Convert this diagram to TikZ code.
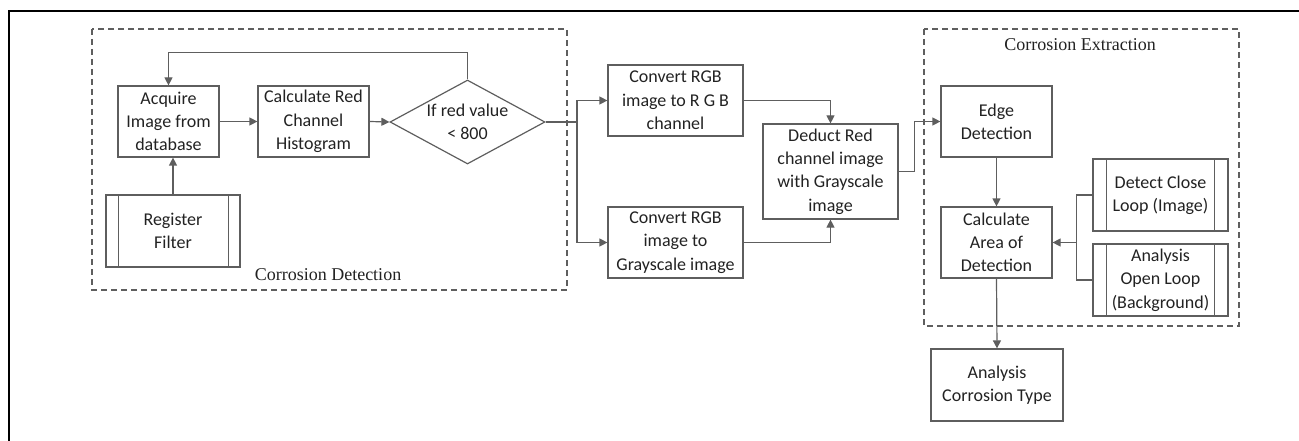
\documentclass[tikz,border=0pt]{standalone}
\usepackage{fontspec}
\setmainfont{Carlito}
\newfontfamily\labelfont{Liberation Serif}
\usetikzlibrary{shapes.geometric,arrows.meta}
\definecolor{linegray}{HTML}{5E5E5E}
\definecolor{txtgray}{HTML}{222222}
\tikzset{
  box/.style={draw=linegray, line width=1.2pt, rectangle, inner sep=0pt, align=center,
    text=txtgray, font=\fontsize{18}{23.3}\selectfont},
  decision/.style={draw=linegray, line width=1.2pt, diamond, inner sep=0pt,
    minimum width=155pt, minimum height=84pt},
  txt/.style={align=center, text=txtgray, font=\fontsize{18}{23.3}\selectfont, inner sep=0pt},
  grouplabel/.style={text=txtgray, font=\labelfont\fontsize{18}{22}\selectfont, inner sep=0pt},
  group/.style={draw=linegray, line width=1.3pt, dash pattern=on 6pt off 4pt},
  conn/.style={draw=linegray, line width=1.2pt},
  arr/.style={conn, -{Triangle[length=8pt,width=8pt]}},
}
\begin{document}
\begin{tikzpicture}[x=1pt,y=-1pt]
\useasboundingbox (0,0) rectangle (1299,441);
% frame corner
\draw[line width=2pt, black] (9,441) -- (9,11) -- (1299,11);
% groups
\draw[group] (92,29) rectangle (567,290);
\draw[group] (924,29) rectangle (1239,326);
\node[grouplabel] (cdlabel) at (328,275) {Corrosion Detection};
\node[grouplabel] (celabel) at (1080,45) {Corrosion Extraction};
% nodes
\node[box, minimum width=101pt, minimum height=71pt] (acq) at (168.5,121.5) {Acquire\\Image from\\database};
\node[box, minimum width=111pt, minimum height=71pt] (calc) at (313.5,121.5) {Calculate Red\\Channel\\Histogram};
\node[decision] (dia) at (467.5,122) {};
\node[txt] (diatext) at (467.5,122) {If red value\\< 800};
\node[box, minimum width=134pt, minimum height=72pt] (reg) at (173,231) {Register\\Filter};
\draw[conn] ([xshift=13pt]reg.north west) -- ([xshift=13pt]reg.south west);
\draw[conn] ([xshift=-12pt]reg.north east) -- ([xshift=-12pt]reg.south east);
\node[box, minimum width=135pt, minimum height=71pt] (conv1) at (675.5,100.5) {Convert RGB\\image to R G B\\channel};
\node[box, minimum width=135pt, minimum height=71pt] (conv2) at (675.5,242.5) {Convert RGB\\image to\\Grayscale image};
\node[box, minimum width=135pt, minimum height=95pt] (ded) at (830.5,171.5) {Deduct Red\\channel image\\with Grayscale\\image};
\node[box, minimum width=111pt, minimum height=71pt] (edge) at (996.5,121.5) {Edge\\Detection};
\node[box, minimum width=111pt, minimum height=71pt] (area) at (996.5,242.5) {Calculate\\Area of\\Detection};
\node[box, minimum width=135pt, minimum height=72pt] (close) at (1160.5,195) {Detect Close\\Loop (Image)};
\draw[conn] ([xshift=14pt]close.north west) -- ([xshift=14pt]close.south west);
\draw[conn] ([xshift=-14pt]close.north east) -- ([xshift=-14pt]close.south east);
\node[box, minimum width=135pt, minimum height=72pt] (open) at (1160.5,280) {Analysis\\Open Loop\\(Background)};
\draw[conn] ([xshift=14pt]open.north west) -- ([xshift=14pt]open.south west);
\draw[conn] ([xshift=-14pt]open.north east) -- ([xshift=-14pt]open.south east);
\node[box, minimum width=132pt, minimum height=72pt] (act) at (997,385) {Analysis\\Corrosion Type};
% connectors
\draw[arr] (dia.north) -- ++(0,-27) -| (acq.north);
\draw[arr] (reg.north) -- (reg.north |- acq.south);
\draw[arr] (acq.east) -- (calc.west);
\draw[arr] (calc.east) -- (dia.west);
\coordinate (split) at (577,122);
\draw[conn] (dia.east) -- (split);
\draw[arr] (split) |- (conv1.west);
\draw[arr] (split) |- (conv2.west);
\draw[arr] (conv1.east) -| (ded.north);
\draw[arr] (conv2.east) -| (ded.south);
\draw[arr] (ded.east) -- ++(16,0) |- (edge.west);
\draw[arr] (edge.south) -- (area.north);
\draw[arr] (area.south) -- (act.north);
\draw[conn] (close.west) -- ++(-16,0) coordinate (bk) |- (open.west);
\draw[arr] (bk |- area.east) -- (area.east);
\end{tikzpicture}
\end{document}
